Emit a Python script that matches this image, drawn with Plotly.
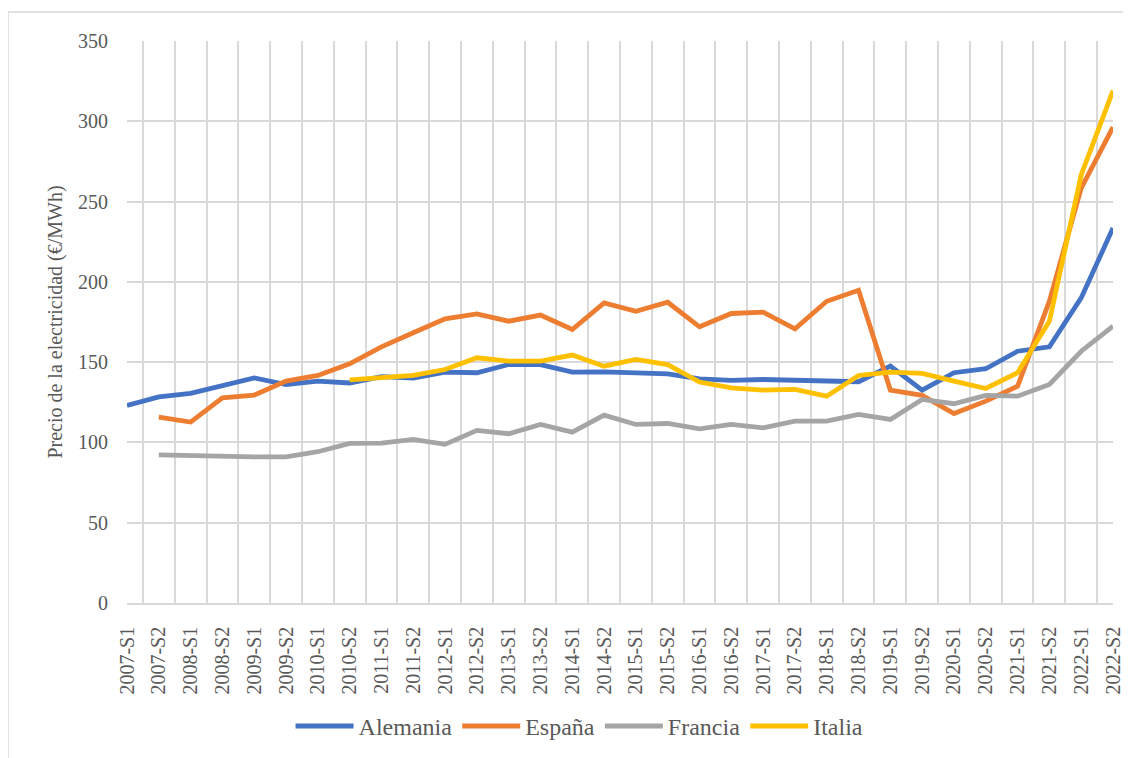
import plotly.graph_objects as go

periodos = [f"{y}-S{s}" for y in range(2007, 2023) for s in (1, 2)]

alemania = [123, 128.4, 130.5, 135, 140.2, 136, 138.2, 137, 141, 140, 143.8,
            143.4, 148.5, 148.5, 143.8, 144, 143.4, 142.7, 139.6, 138.6, 139.2,
            138.6, 138.2, 137.8, 147.5, 132.6, 143.4, 145.9, 156.8, 159.5, 190, 233.5]
espana = [None, 115.8, 112.7, 127.8, 129.5, 138.2, 141.7, 149, 159.5, 168.3, 177,
          180, 175.5, 179.3, 170.3, 186.9, 181.7, 187.3, 172, 180.3, 181.1,
          170.7, 187.9, 194.8, 132.6, 129.3, 118, 125.7, 135, 188, 258.4, 296.3]
francia = [None, 92.3, 91.7, 91.3, 91, 91, 94.2, 99.4, 99.6, 101.9, 98.8,
           107.5, 105.4, 111.2, 106.4, 117, 111.2, 111.8, 108.5, 111.2, 109.1,
           113.3, 113.3, 117.4, 114.3, 126.8, 124.1, 129.3, 128.8, 136.1, 156.8, 172.4]
italia = [None, None, None, None, None, None, None, 139, 140.2, 141.7, 145.4,
          152.7, 150.6, 150.6, 154.4, 147.5, 151.7, 148.5, 137.6, 134, 132.6,
          133, 128.8, 141.7, 143.8, 143, 138.2, 133.6, 143.4, 175.5, 266.6, 319.1]

series = [("Alemania", alemania, "#4472C4"),
          ("España", espana, "#ED7D31"),
          ("Francia", francia, "#A5A5A5"),
          ("Italia", italia, "#FFC000")]

font_family = "Times New Roman, Liberation Serif, DejaVu Serif, serif"
text_color = "#595959"
grid_color = "#d9d9d9"

fig = go.Figure()
for name, vals, color in series:
    fig.add_trace(go.Scatter(
        x=periodos, y=vals, name=name, mode="lines",
        line=dict(color=color, width=4.8),
        connectgaps=False,
    ))

fig.update_layout(
    width=1123, height=750,
    margin=dict(l=119, r=18, t=33, b=154.5, autoexpand=False),
    paper_bgcolor="white", plot_bgcolor="white",
    font=dict(family=font_family, size=20, color=text_color),
    showlegend=True,
    legend=dict(orientation="h", x=0.459, xanchor="center", y=-0.2196, yanchor="middle",
                font=dict(family=font_family, size=24, color=text_color),
                itemwidth=58, tracegroupgap=0),
    shapes=[dict(type="rect", xref="paper", yref="paper",
                 x0=-0.1207, x1=1.05, y0=-0.4, y1=1.0516,
                 line=dict(color=grid_color, width=1.5), fillcolor="rgba(0,0,0,0)",
                 layer="below")],
)

fig.update_xaxes(
    type="category", tickson="boundaries", tickangle=-90,
    showgrid=True, gridcolor=grid_color, gridwidth=1.5,
    showline=True, linecolor=grid_color, linewidth=1.5, mirror=False,
    ticks="", ticklabelstandoff=14, automargin=False,
    tickfont=dict(family=font_family, size=20, color=text_color),
)
fig.update_yaxes(
    range=[0, 350], dtick=50, showgrid=True, gridcolor=grid_color, gridwidth=1.5,
    zeroline=False, showline=False, ticks="", ticklabelstandoff=18, automargin=False,
    tickfont=dict(family=font_family, size=20, color=text_color),
    title=dict(text="Precio de la electricidad (€/MWh)", standoff=10,
               font=dict(family=font_family, size=20, color=text_color)),
)

fig.write_html("out.html")
